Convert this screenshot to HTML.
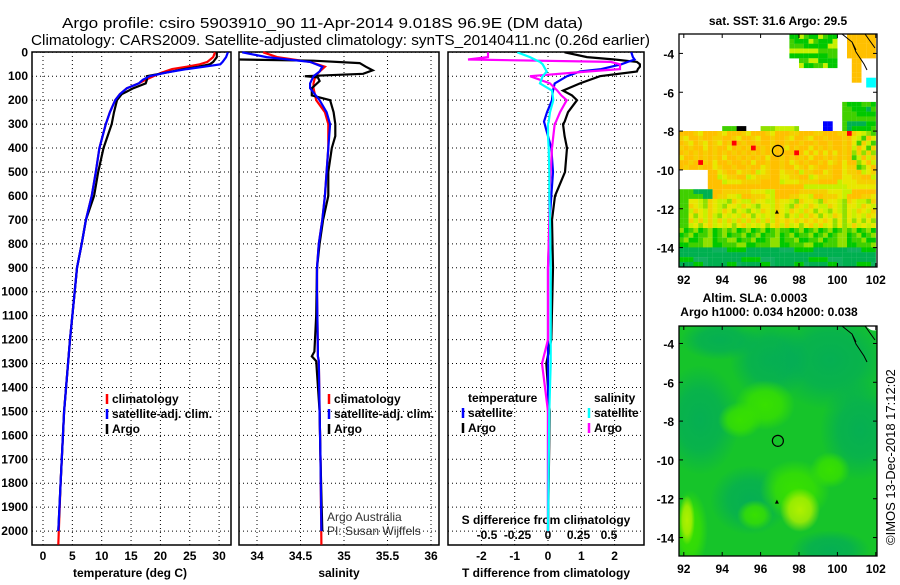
<!DOCTYPE html>
<html><head><meta charset="utf-8"><style>
body{margin:0;background:#fff;}
svg text{font-family:"Liberation Sans",sans-serif;}
.b{font-weight:bold;font-size:12px;}
</style></head><body>
<svg id="fig" width="900" height="580" viewBox="0 0 900 580" xmlns="http://www.w3.org/2000/svg">
<rect width="900" height="580" fill="#fff"/>
<text x="62" y="28" font-size="15" textLength="521" lengthAdjust="spacingAndGlyphs">Argo profile: csiro 5903910_90 11-Apr-2014 9.018S 96.9E (DM data)</text>
<text x="31" y="45" font-size="15" textLength="619" lengthAdjust="spacingAndGlyphs">Climatology: CARS2009. Satellite-adjusted climatology: synTS_20140411.nc (0.26d earlier)</text>
<g id="p1"></g>
<g id="p2"></g>
<g id="p3"></g>
<g id="m1"></g>
<g id="m2"></g>
<text transform="translate(895,545) rotate(-90)" font-size="13">©IMOS 13-Dec-2018 17:12:02</text>
</svg>
<script>
// ---- data ----
const depthTicks=[0,100,200,300,400,500,600,700,800,900,1000,1100,1200,1300,1400,1500,1600,1700,1800,1900,2000];
const tempTicks=[0,5,10,15,20,25,30];
const salTicks=[34,34.5,35,35.5,36];
const dTTicks=[-2,-1,0,1,2];
const dSTicks=["-0.5","-0.25","0","0.25","0.5"];
const dSTickPos=[-0.5,-0.25,0,0.25,0.5];
const tDepth=[0,20,40,50,60,70,85,100,115,130,150,175,200,250,300,400,500,600,700,800,900,1000,1200,1500,1800,2000];
const tClim=[29.3,29.0,28.0,26.7,24.5,22,20.2,18.8,17.5,16.3,14.3,13.1,12.3,11.4,10.7,9.6,9.0,8.3,7.3,6.6,5.8,5.4,4.6,3.6,3.0,2.6];
const tSat=[31.5,31.2,30.6,30.2,27.5,24.5,21,18.2,17,16.3,14.3,13.1,12.3,11.4,10.7,9.6,9.0,8.3,7.3,6.6,5.8,5.4,4.6,3.6,3.0,2.6];
const tArgo=[29.6,29.6,29.0,28.4,26.5,24,21,17.7,17.7,17.5,15.4,13.4,12.6,12.1,11.7,10.3,9.4,8.7,7.3,6.6,5.8,5.4,4.6,3.6,3.0,2.6];
const sDepth=[0,20,40,60,80,100,130,150,200,250,300,400,500,600,700,800,900,1000,1250,1270,1290,1500,1700,2000];
const sClim=[34.07,34.23,34.61,34.78,34.72,34.67,34.65,34.65,34.68,34.78,34.82,34.82,34.8,34.78,34.75,34.71,34.69,34.69,34.7,34.7,34.71,34.72,34.73,34.74];
const sSat=[33.83,34.11,34.61,34.75,34.72,34.65,34.61,34.61,34.72,34.8,34.84,34.82,34.8,34.78,34.75,34.71,34.69,34.69,34.7,34.7,34.71,34.72,34.73,34.74];
const aDepth=[30,35,45,60,75,90,100,105,120,150,180,200,250,300,350,400,500,600,700,800,900,1100,1250,1270,1290,1500,1700,2000];
const sArgo=[33.8,34.65,35.18,35.25,35.33,35.22,34.55,34.7,34.72,34.63,34.63,34.84,34.88,34.9,34.9,34.86,34.82,34.82,34.76,34.72,34.69,34.68,34.66,34.63,34.68,34.72,34.73,34.75];
const dDepth=[0,20,30,40,50,60,70,80,100,130,160,180,200,250,290,300,350,400,500,600,700,900,1200,1300,1500,2000];
const dTArgo=[0.5,1.17,2.0,2.67,2.76,2.76,2.7,2.67,1.56,0.96,0.45,0.72,0.87,0.6,0.5,0.45,0.5,0.57,0.51,0.21,0.12,0.15,0.1,-0.05,0.05,0];
const dTSat=[2.5,2.55,2.6,2.4,2.2,1.9,1.6,0.96,0.57,0.2,0.15,0.13,0.12,-0.03,-0.12,-0.1,0,0.1,0.15,0.1,0.05,0,0,0,0,0];
const dSArgo=[-0.45,-0.45,-0.6,0.47,0.54,0.54,0.54,0.3,-0.135,0.015,0.07,0.1,0.14,0.09,0.06,0.05,0.04,0.03,0.02,0.01,0.01,0,0,-0.045,0,0];
const dSSat=[-0.23,-0.135,-0.1,-0.06,-0.04,-0.03,-0.02,-0.01,-0.04,-0.06,0.03,0.035,0.04,0.015,0.005,0,0,0.005,0.01,0.01,0.015,0.02,0.02,0.02,0.01,0];
const lonTicks=[92,94,96,98,100,102];
const latTicks=[-4,-6,-8,-10,-12,-14];
const argoLon=96.9, argoLat=-9.018;
</script>
<script>
const NS="http://www.w3.org/2000/svg";
function mk(parent,tag,attrs,txt){const e=document.createElementNS(NS,tag);for(const k in attrs)e.setAttribute(k,attrs[k]);if(txt!==undefined)e.textContent=txt;parent.appendChild(e);return e;}
const yD=d=>52.3+d*0.2394;
const TOP=52,BOT=545;
function frame(g,x0,x1,gridXs,name){
  gridXs.forEach(x=>{const l=mk(g,'line',{x1:x,x2:x,y1:TOP,y2:BOT,stroke:'#000','stroke-dasharray':'1,3','stroke-width':1});
  
  });
  depthTicks.forEach(d=>{const l=mk(g,'line',{x1:x0,x2:x1,y1:yD(d),y2:yD(d),stroke:'#000','stroke-dasharray':'1,3','stroke-width':1});
  
  });
  const r=mk(g,'rect',{x:x0,y:TOP,width:x1-x0,height:BOT-TOP,fill:'none',stroke:'#000','stroke-width':1.5});
  
  
}
function line(g,xs,ds,fx,color,name,w){
  const pts=xs.map((v,i)=>fx(v).toFixed(1)+','+yD(ds[i]).toFixed(1)).join(' ');
  const p=mk(g,'polyline',{points:pts,fill:'none',stroke:color,'stroke-width':w||2.2});
  
  
}
function legend(g,x,y,items){
  items.forEach((it,i)=>{
    const yy=y+i*15;
    if(it[1]){const l=mk(g,'line',{x1:x,x2:x,y1:yy-9,y2:yy+1,stroke:it[1],'stroke-width':2.5});
    
    }
    const t=mk(g,'text',{x:x+5,y:yy,class:'b'},it[0]);
    
    
  });
}
// panel 1
const p1=document.getElementById('p1');
const xT=t=>43+t*5.87;
frame(p1,32,231,tempTicks.map(xT),'temp');
depthTicks.forEach(d=>{const t=mk(p1,'text',{x:28,y:yD(d)+4,'text-anchor':'end',class:'b'},d);

});
tempTicks.forEach(v=>{const t=mk(p1,'text',{x:xT(v),y:560,'text-anchor':'middle',class:'b'},v);

});
{const t=mk(p1,'text',{x:130,y:577,'text-anchor':'middle',class:'b'},'temperature (deg C)');

}
line(p1,tClim,tDepth.map(d=>d===2000?2057:d),xT,'#f00','climatology-temp-line');
line(p1,tArgo,tDepth,xT,'#000','argo-temp-line');
line(p1,tSat,tDepth,xT,'#00f','satellite-temp-line');
legend(p1,107,403,[['climatology','#f00'],['satellite-adj. clim.','#00f'],['Argo','#000']]);
// panel 2
const p2=document.getElementById('p2');
const xS=s=>257+(s-34)*87;
frame(p2,239,439,salTicks.map(xS),'sal');
salTicks.forEach(v=>{const t=mk(p2,'text',{x:xS(v),y:560,'text-anchor':'middle',class:'b'},v);

});
{const t=mk(p2,'text',{x:339,y:577,'text-anchor':'middle',class:'b'},'salinity');

}
line(p2,sClim,sDepth.map(d=>d===2000?2057:d),xS,'#f00','climatology-sal-line');
line(p2,sArgo,aDepth,xS,'#000','argo-sal-line');
line(p2,sSat,sDepth,xS,'#00f','satellite-sal-line');
legend(p2,329,403,[['climatology','#f00'],['satellite-adj. clim.','#00f'],['Argo','#000']]);
{const t=mk(p2,'text',{x:327,y:521,'font-size':12,fill:'#333'},'Argo Australia');


const t2=mk(p2,'text',{x:327,y:535,'font-size':12,fill:'#333'},'PI: Susan Wijffels');

}
// panel 3
const p3=document.getElementById('p3');
const xDT=t=>548+t*33.3, xDS=s=>548+s*133.3;
frame(p3,448,644,dTTicks.map(xDT),'diff');
dTTicks.forEach(v=>{const t=mk(p3,'text',{x:xDT(v),y:560,'text-anchor':'middle',class:'b'},v);

});
dSTicks.forEach((v,i)=>{const t=mk(p3,'text',{x:548+dSTickPos[i]*122,y:539,'text-anchor':'middle',class:'b'},v);

});
{const t=mk(p3,'text',{x:546,y:524,'text-anchor':'middle',class:'b'},'S difference from climatology');


const t2=mk(p3,'text',{x:546,y:577,'text-anchor':'middle',class:'b'},'T difference from climatology');

}
const clip=mk(p3,'clipPath',{id:'c3'});mk(clip,'rect',{x:448,y:52,width:196,height:493});
const g3=mk(p3,'g',{'clip-path':'url(#c3)'});
line(g3,dTArgo,dDepth,xDT,'#000','argo-t-diff-line');
line(g3,dTSat,dDepth,xDT,'#00f','satellite-t-diff-line');
line(g3,dSArgo,dDepth,xDS,'#f0f','argo-s-diff-line');
line(g3,dSSat,dDepth,xDS,'#0ff','satellite-s-diff-line');
legend(p3,463,402,[['temperature',null],['satellite','#00f'],['Argo','#000']]);
legend(p3,589,402,[['salinity',null],['satellite','#0ff'],['Argo','#f0f']]);
// maps
function mapAxes(g,x0,y0,x1,y1,lat0,lat1,name){
  const fx=l=>x0+(l-91.75)*19.2, fy=l=>y0+(lat0-l)*(y1-y0)/(lat0-lat1);
  lonTicks.forEach(l=>{const t=mk(g,'text',{x:fx(l),y:y1+17,'text-anchor':'middle',class:'b','font-size':13},l);
  
  
  mk(g,'line',{x1:fx(l),x2:fx(l),y1:y1,y2:y1-4,stroke:'#000'});mk(g,'line',{x1:fx(l),x2:fx(l),y1:y0,y2:y0+4,stroke:'#000'});});
  latTicks.forEach(l=>{const t=mk(g,'text',{x:x0-5,y:fy(l)+5,'text-anchor':'end',class:'b','font-size':13},l);
  
  
  mk(g,'line',{x1:x0,x2:x0+4,y1:fy(l),y2:fy(l),stroke:'#000'});mk(g,'line',{x1:x1,x2:x1-4,y1:fy(l),y2:fy(l),stroke:'#000'});});
  const r=mk(g,'rect',{x:x0,y:y0,width:x1-x0,height:y1-y0,fill:'none',stroke:'#000','stroke-width':1.3});
  
  
  const c=mk(g,'circle',{cx:fx(argoLon),cy:fy(argoLat),r:5.5,fill:'none',stroke:'#000','stroke-width':1.2});
  
  
  mk(g,'path',{d:`M${fx(96.85)-2},${fy(-12.15)+2} l2,-4 l2,4z`,fill:'#000'});
  mk(g,'path',{d:`M${x1-35},${y0} l10,8 l4,10 l8,12 l3,6 M${x1-12},${y0} l10,14 M${x1-25},${y0+8} l4,8`,fill:'none',stroke:'#000','stroke-width':1});
  return [fx,fy];
}
const m1=document.getElementById('m1');
{const t=mk(m1,'text',{x:778,y:25,'text-anchor':'middle',class:'b'},'sat. SST: 31.6 Argo: 29.5');

}
const [f1x,f1y]=[l=>679+(l-91.75)*19.2,l=>34+(-3.0-l)*19.4];
const cols=['#ffc000','#f5d000','#e8e800','#c8f000','#90e000','#40d000','#00c800','#00b050'];
const cg=mk(m1,'g',{});
for(let i=0;i<41;i++)for(let j=0;j<48;j++){
  const lon=91.75+i*0.25, lat=-3.0-j*0.25;
  const h=((i*73+j*151+i*j*7)%97)/97;
  let c=null;
  if(lat>-7.95){
    if(lat>-4.6&&lon>=97.5&&lon<99.8&&!(lat<-4&&lon<98)) c=h<0.5?'#00c800':(h<0.8?'#40d000':'#c8f000');
    else if(lat>-5.5&&lon>=100.3&&lon<101.8&&(lat>-4.2||lon>=100.6&&lon<101.2)) c='#ffc000';
    else if(lat<-6.4&&lon>=100.2&&lat>-7.9) c=h<0.5?'#00c800':(h<0.8?'#40d000':'#00b050');
    else if(lat<=-5.25&&lat>-5.75&&lon>=101.3&&lon<101.8) c='#00ffff';
    else if(lat<-7.5&&lon>=94&&lon<95.2) c=h<0.4?'#000':'#40d000';
    else if(lat<-7.5&&lon>=96&&lon<98) c=h<0.5?'#c8f000':'#90e000';
    else if(lat<-7.4&&lon>=99.1&&lon<99.6) c='#0000ff';
  } else {
    if(lon<93.25&&lat<-9.75&&lat>-10.9) c=null;
    else if(lat>-10){ c=lon>100.5? cols[Math.floor(h*6)]: (h<0.55?'#ffc000':h<0.85?'#f5d000':'#e8e800'); if(h>0.985)c='#f00';}
    else if(lat>-11.5){ c=h<0.35?'#ffc000':h<0.7?'#f5d000':h<0.9?'#e8e800':'#c8f000'; if(lon<93.5&&lat<-10.8) c=h<0.5?'#00b050':'#40d000';}
    else if(lat>-13) c=h<0.2?'#f5d000':h<0.55?'#e8e800':h<0.85?'#c8f000':'#90e000';
    else if(lat>-14) c=h<0.3?'#90e000':h<0.7?'#40d000':'#00c800';
    else c=h<0.5?'#00b050':h<0.8?'#00c800':'#10b060';
    if(lon<92.2&&lat>-13&&lat<-11)c='#40d000';
  }
  if(c){const x=f1x(lon),y=f1y(lat);if(x<877&&y<267)mk(cg,'rect',{x:x.toFixed(1),y:y.toFixed(1),width:Math.min(4.9,877-x).toFixed(1),height:Math.min(4.95,267-y).toFixed(1),fill:c});}
}


mapAxes(m1,679,34,877,267,-3.0,-15.0,'sst-map');
// map 2
const m2=document.getElementById('m2');
{const t=mk(m2,'text',{x:755,y:302,'text-anchor':'middle',class:'b'},'Altim. SLA: 0.0003');


const t2=mk(m2,'text',{x:769,y:316,'text-anchor':'middle',class:'b'},'Argo h1000: 0.034 h2000: 0.038');

}
const defs=mk(m2,'defs',{});
function rg(id,c,o){const g=mk(defs,'radialGradient',{id:id});mk(g,'stop',{offset:'0','stop-color':c,'stop-opacity':o});mk(g,'stop',{offset:'0.55','stop-color':c,'stop-opacity':o*0.8});mk(g,'stop',{offset:'1','stop-color':c,'stop-opacity':0});}
rg('teal','#00a860',0.75);rg('lg','#38e000',1);rg('yg','#b0f000',1);rg('dg','#00b040',1);
const mc=mk(m2,'clipPath',{id:'c2'});mk(mc,'rect',{x:679,y:326,width:198,height:230});
const sg=mk(m2,'g',{'clip-path':'url(#c2)'});


mk(sg,'rect',{x:679,y:326,width:198,height:230,fill:'#16c42a'});
[['teal',770,360,40,40],['teal',830,360,60,50],['teal',700,420,40,55],['teal',750,500,40,35],['teal',830,550,40,20],['teal',860,430,40,50],['teal',720,340,40,20],
 ['lg',765,405,30,25],['lg',740,420,22,18],['lg',795,490,35,30],['lg',755,515,18,15],['lg',830,470,20,18],['lg',690,530,18,40],
 ['yg',800,510,20,22],['yg',687,520,8,25]].forEach(b=>mk(sg,'ellipse',{cx:b[1],cy:b[2],rx:b[3],ry:b[4],fill:`url(#${b[0]})`}));
mk(sg,'path',{d:'M866,326 q5,6 11,4 v-4z',fill:'#fff'});
mapAxes(m2,679,326,877,556,-3.1,-14.95,'sla-map');
</script>
</body></html>
